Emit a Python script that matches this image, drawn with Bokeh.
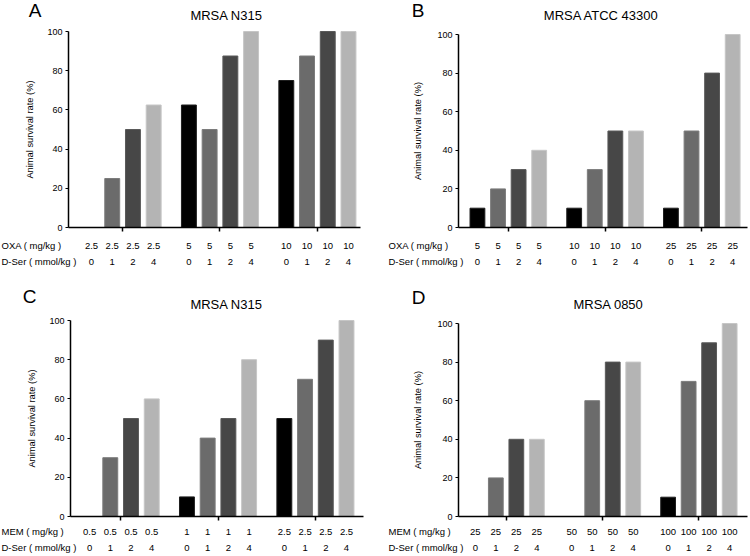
from bokeh.plotting import figure
from bokeh.models import Range1d, FixedTicker
from bokeh.core.properties import value
from bokeh.layouts import gridplot
from bokeh.embed import file_html
from bokeh.resources import INLINE

# ---------------- data ----------------
dser_levels = ["0", "1", "2", "4"]

A_title = "MRSA N315"
A_drug = "OXA ( mg/kg )"
A_doses = ["2.5", "5", "10"]
A_values = [[0, 25, 50, 62.5], [62.5, 50, 87.5, 100], [75, 87.5, 100, 100]]

B_title = "MRSA ATCC 43300"
B_drug = "OXA ( mg/kg )"
B_doses = ["5", "10", "25"]
B_values = [[10, 20, 30, 40], [10, 30, 50, 50], [10, 50, 80, 100]]

C_title = "MRSA N315"
C_drug = "MEM ( mg/kg )"
C_doses = ["0.5", "1", "2.5"]
C_values = [[0, 30, 50, 60], [10, 40, 50, 80], [50, 70, 90, 100]]

D_title = "MRSA 0850"
D_drug = "MEM ( mg/kg )"
D_doses = ["25", "50", "100"]
D_values = [[0, 20, 40, 40], [0, 60, 80, 80], [10, 70, 90, 100]]

dser_label = "D-Ser ( mmol/kg )"
y_label = "Animal survival rate (%)"
y_ticks = [0, 20, 40, 60, 80, 100]

# ---------------- styling ----------------
FONT = "Liberation Sans"
FILLS = ["#000000", "#6b6b6b", "#474747", "#b4b4b4"]
EDGES = ["#1e1e1e", "#7c7c7c", "#5a5a5a", "#c6c6c6"]
GAP = 4.7
BAR_W = 0.72
W, H = 375, 278


def make_panel(letter, title, drug, doses, values, fig_x, fig_y, FL, FR, Y100, Y0,
               x0, x1, title_px, letter_px, rows_py, row_start, ylab_standoff):
    # layout: the plotting frame fills the whole canvas; the axes are pinned
    ppx = (FR - FL) / (x1 - x0)
    ppu = (Y0 - Y100) / 100.0

    def to_x(px):
        return x0 + (px - FL) / ppx

    def to_y(py):
        return (Y0 - py) / ppu

    p = figure(width=W, height=H, output_backend="svg", toolbar_location=None,
               title=None,
               x_range=Range1d(to_x(fig_x), to_x(fig_x + W)),
               y_range=Range1d(to_y(fig_y + H), to_y(fig_y)),
               min_border_left=0, min_border_right=0,
               min_border_top=0, min_border_bottom=0)
    p.outline_line_color = None
    p.xgrid.visible = False
    p.ygrid.visible = False

    xs, tops, fills, edges, dose_txt, ser_txt = [], [], [], [], [], []
    for g, grp in enumerate(values):
        for k, v in enumerate(grp):
            xs.append(g * GAP + k)
            tops.append(v)
            fills.append(FILLS[k])
            edges.append(EDGES[k])
            dose_txt.append(doses[g])
            ser_txt.append(dser_levels[k])
    centers = [g * GAP + 1.5 for g in range(len(values))]

    p.vbar(x=xs, top=tops, bottom=0, width=BAR_W, fill_color=fills,
           line_color=edges, line_width=1)

    # y axis pinned at the left end of the bar area
    ya = p.yaxis[0]
    ya.fixed_location = x0
    ya.bounds = (0, 100)
    ya.ticker = FixedTicker(ticks=y_ticks)
    ya.axis_label = y_label
    ya.axis_label_text_font = FONT
    ya.axis_label_text_font_size = "9.3px"
    ya.axis_label_text_font_style = "normal"
    ya.axis_label_text_color = "#000000"
    ya.axis_label_standoff = ylab_standoff
    ya.major_label_text_font = FONT
    ya.major_label_text_font_size = "9px"
    ya.major_label_text_color = "#000000"
    ya.major_label_standoff = 3
    ya.major_tick_out = 3
    ya.major_tick_in = 0
    ya.minor_tick_out = 0
    ya.minor_tick_in = 0
    ya.axis_line_width = 1.5
    ya.major_tick_line_width = 1.2

    # x axis pinned at y = 0, ticks at the group centres
    xa = p.xaxis[0]
    xa.fixed_location = 0
    xa.bounds = (x0, x1)
    xa.ticker = FixedTicker(ticks=centers)
    xa.major_label_text_font_size = "0px"
    xa.major_label_text_color = None
    xa.major_label_standoff = 0
    xa.major_tick_out = 4
    xa.major_tick_in = 0
    xa.minor_tick_out = 0
    xa.minor_tick_in = 0
    xa.axis_line_width = 1.5
    xa.major_tick_line_width = 1.5

    # panel letter and chart title
    p.text(x=[to_x(letter_px[0])], y=[to_y(letter_px[1])], text=[letter],
           text_font=value(FONT), text_font_size="19px", text_align="center",
           text_baseline="middle", text_color="#000000")
    p.text(x=[to_x(title_px[0])], y=[to_y(title_px[1])], text=[title],
           text_font=value(FONT), text_font_size="13px", text_align="center",
           text_baseline="middle", text_color="#000000")

    # dose / D-Ser label rows under the bars
    for txts, name, py in ((dose_txt, drug, rows_py[0]), (ser_txt, dser_label, rows_py[1])):
        yy = to_y(py)
        p.text(x=xs, y=[yy] * len(xs), text=txts, text_font=value(FONT),
               text_font_size="9.5px", text_align="center", text_baseline="middle",
               text_color="#000000")
        p.text(x=[to_x(row_start)], y=[yy], text=[name], text_font=value(FONT),
               text_font_size="9.5px", text_align="left", text_baseline="middle",
               text_color="#000000")
    return p


pA = make_panel("A", A_title, A_drug, A_doses, A_values, 0, 0, 68, 360, 31, 227,
                -1.11, 12.98, (226, 15), (34.5, 10), (245, 261), 1, 9)
pB = make_panel("B", B_title, B_drug, B_doses, B_values, 375, 0, 458, 747, 34, 227,
                -0.92, 13.12, (601, 15), (417.5, 10), (245, 261), 388, 11)
pC = make_panel("C", C_title, C_drug, C_doses, C_values, 0, 278, 70, 363, 320, 516,
                -0.92, 13.22, (226, 304), (29, 296), (531, 547), 1, 9)
pD = make_panel("D", D_title, D_drug, D_doses, D_values, 375, 278, 458, 747, 323, 516,
                -0.82, 13.27, (608, 304), (418, 297), (531, 547), 388, 11)

grid = gridplot([[pA, pB], [pC, pD]], toolbar_location=None)
open("out.html", "w").write(file_html(grid, INLINE))
